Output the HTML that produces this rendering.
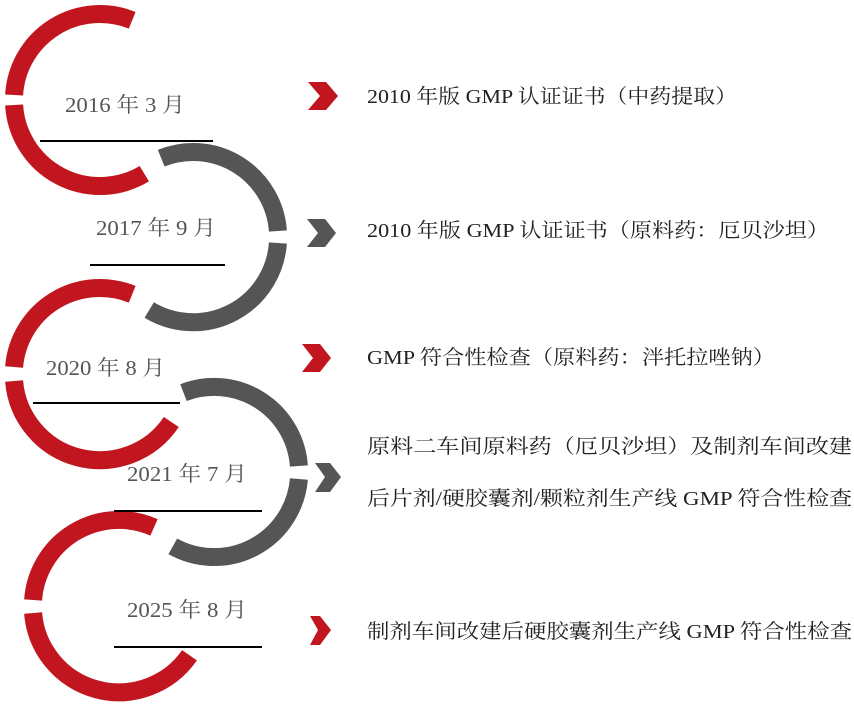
<!DOCTYPE html>
<html><head><meta charset="utf-8"><style>
html,body{margin:0;padding:0;background:#fff;}
svg{display:block;}
text{font-family:"Liberation Serif","Noto Serif CJK SC",serif;}
</style></head><body>
<svg width="854" height="705" viewBox="0 0 854 705" xmlns="http://www.w3.org/2000/svg">
<g fill="none" stroke-width="18">
<!-- arc1 red c(100,100) r86 -->
<path d="M132.2,20.3 A86,86 0 0 0 14.1,95" stroke="#c1161f"/>
<path d="M14.1,105 A86,86 0 0 0 144.3,173.7" stroke="#c1161f"/>
<!-- arc2 gray c(193,237) r85 -->
<path d="M161.2,158.2 A85,85 0 0 1 277.9,231" stroke="#555"/>
<path d="M277.9,243 A85,85 0 0 1 149.2,310" stroke="#555"/>
<!-- arc3 red c(100,374) r86 -->
<path d="M132.2,294.3 A86,86 0 0 0 14.1,367" stroke="#c1161f"/>
<path d="M14.1,381 A86,86 0 0 0 171.3,422" stroke="#c1161f"/>
<!-- arc4 gray c(214,472) r85 -->
<path d="M183.5,392.6 A85,85 0 0 1 298.9,466" stroke="#555"/>
<path d="M298.9,479 A85,85 0 0 1 172.8,546.3" stroke="#555"/>
<!-- arc5 red c(119,606) r86 -->
<path d="M154,527.4 A86,86 0 0 0 33.1,600" stroke="#c1161f"/>
<path d="M33.1,613 A86,86 0 0 0 189.5,655.3" stroke="#c1161f"/>
</g>
<g stroke="#000" stroke-width="2">
<line x1="40" y1="141" x2="213" y2="141"/>
<line x1="90" y1="265" x2="225" y2="265"/>
<line x1="33" y1="403" x2="180" y2="403"/>
<line x1="114" y1="511" x2="262" y2="511"/>
<line x1="114" y1="647" x2="262" y2="647"/>
</g>
<g fill="#555" font-size="21">
<text x="65" y="112" textLength="120" lengthAdjust="spacingAndGlyphs">2016 年 3 月</text>
<text x="96" y="235" textLength="120" lengthAdjust="spacingAndGlyphs">2017 年 9 月</text>
<text x="46" y="375" textLength="119" lengthAdjust="spacingAndGlyphs">2020 年 8 月</text>
<text x="127" y="481" textLength="120" lengthAdjust="spacingAndGlyphs">2021 年 7 月</text>
<text x="127" y="617" textLength="120" lengthAdjust="spacingAndGlyphs">2025 年 8 月</text>
</g>
<polygon points="308,82 326,82 338,96 326,110 308,110 320,96" fill="#c1161f"/>
<polygon points="307,219 325,219 336,233 325,247 307,247 318,233" fill="#555"/>
<polygon points="302,344 320,344 331,358 320,372 302,372 313,358" fill="#c1161f"/>
<polygon points="315,463 330,463 341,477 330,492 315,492 325,477" fill="#555"/>
<polygon points="310,616 320,616 331,630 320,645 310,645 318,630" fill="#c1161f"/>
<g fill="#222" font-size="20">
<text x="367" y="103" textLength="370" lengthAdjust="spacingAndGlyphs">2010 年版 GMP 认证证书（中药提取）</text>
<text x="367" y="237" textLength="462" lengthAdjust="spacingAndGlyphs">2010 年版 GMP 认证证书（原料药：厄贝沙坦）</text>
<text x="367" y="364" textLength="408" lengthAdjust="spacingAndGlyphs">GMP 符合性检查（原料药：泮托拉唑钠）</text>
<text x="367" y="453" textLength="485" lengthAdjust="spacingAndGlyphs">原料二车间原料药（厄贝沙坦）及制剂车间改建</text>
<text x="367" y="505" textLength="485" lengthAdjust="spacingAndGlyphs">后片剂/硬胶囊剂/颗粒剂生产线 GMP 符合性检查</text>
<text x="367" y="638" textLength="485" lengthAdjust="spacingAndGlyphs">制剂车间改建后硬胶囊剂生产线 GMP 符合性检查</text>
</g>
</svg>
</body></html>
